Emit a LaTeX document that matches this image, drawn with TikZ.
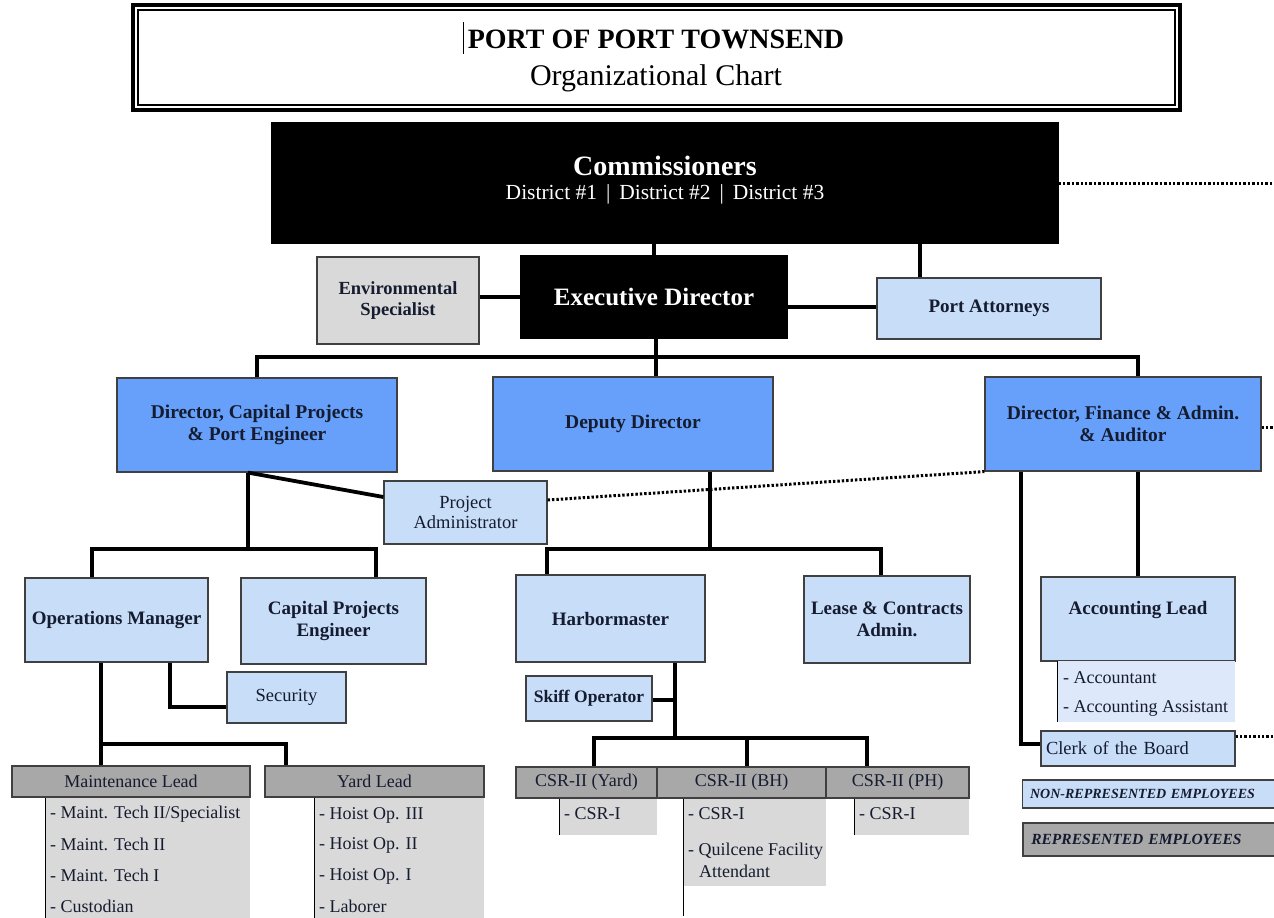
\documentclass[tikz,border=0pt]{standalone}
\usepackage{fontspec}
\setmainfont{Liberation Serif}
\usetikzlibrary{calc}
\definecolor{dblue}{RGB}{102,160,250}
\definecolor{lblue}{RGB}{200,221,248}
\definecolor{llblue}{RGB}{221,232,250}
\definecolor{hgray}{RGB}{168,168,168}
\definecolor{lgray}{RGB}{217,217,217}
\definecolor{bord}{RGB}{64,64,64}
\definecolor{ink}{RGB}{22,28,48}
\newcommand\fs[2]{\fontsize{#1}{#2}\selectfont}
\newcommand\rbox[6]{\node[#1, minimum width={#4pt-#2pt}, minimum height={#5pt-#3pt}] (#6) at ({(#2+#4)/2},{(#3+#5)/2})}
\tikzset{
  bx/.style={draw=bord, line width=1.2pt, inner sep=0pt, align=center, text=ink},
  blackbox/.style={bx, fill=black, draw=black, text=white},
  titlebox/.style={draw=black, line width=4pt, inner sep=0pt, fill=white},
  dirbox/.style={bx, fill=dblue, font=\fs{19.5}{22}\bfseries},
  nrbox/.style={bx, fill=lblue, font=\fs{19}{22}\bfseries},
  nrreg/.style={bx, fill=lblue, font=\fs{18.5}{20}},
  envbox/.style={bx, fill=lgray, font=\fs{18.5}{21}\bfseries},
  hdrbox/.style={bx, fill=hgray, line width=1.6pt, font=\fs{18}{21}},
  listbg/.style={inner sep=0pt, anchor=north west},
  item/.style={anchor=west, inner sep=0pt, font=\fs{18}{21}, text=ink},
  txt/.style={inner sep=0pt, anchor=base},
  conn/.style={line width=3.8pt, draw=black},
  dotl/.style={line width=3pt, draw=black, dash pattern=on 2.4pt off 2pt},
  thinl/.style={line width=1pt, draw=black},
  legend/.style={bx, anchor=west, font=\fs{14}{16}\bfseries\itshape}
}
\begin{document}
\begin{tikzpicture}[x=1pt,y=-1pt]
\useasboundingbox (0,0) rectangle (1274,918);
\fill[white] (0,0) rectangle (1274,918);

% ---- title
\rbox{titlebox}{133}{5}{1180}{110}{title}{};
\draw[line width=1.2pt] ($(title.north west)+(7,7)$) rectangle ($(title.south east)+(-7,-7)$);
\node[txt, font=\fs{28}{32}\bfseries] (t1) at (656,48) {PORT OF PORT TOWNSEND};
\node[txt, font=\fs{30}{34}] (t2) at (656,85) {Organizational Chart};
\coordinate (cur1) at (463,22);
\coordinate (cur2) at (463,54);
\draw[line width=0.9pt] (cur1) -- (cur2);

% ---- top
\rbox{blackbox}{272}{123}{1058}{243}{comm}{};
\node[txt, text=white, font=\fs{28}{32}\bfseries] (ct1) at (665,175) {Commissioners};
\node[txt, text=white, font=\fs{21.5}{24}] (ct2) at (665,199) {District \#1 \,|\, District \#2 \,|\, District \#3};
\rbox{blackbox}{521}{256}{787}{338}{exec}{\fs{25}{28}\bfseries Executive Director};
\rbox{envbox}{317}{257}{479}{344}{env}{Environmental\\Specialist};
\rbox{nrbox}{877}{278}{1101}{339}{pa}{Port Attorneys};

% ---- directors
\rbox{dirbox}{117}{378}{397}{472}{dcp}{Director, Capital Projects\\\& Port Engineer};
\rbox{dirbox}{493}{377}{773}{471}{dep}{Deputy Director};
\rbox{dirbox}{985}{377}{1261}{471}{dfa}{Director, Finance \& Admin.\\\& Auditor};
\rbox{nrreg}{384}{481}{547}{544}{padm}{Project\\Administrator};

% ---- managers
\rbox{nrbox}{25}{578}{208}{662}{ops}{Operations Manager};
\rbox{nrbox}{241}{578}{426}{664}{cpe}{Capital Projects\\Engineer};
\rbox{nrreg}{227}{672}{346}{723}{sec}{Security};
\rbox{nrbox}{516}{575}{705}{662}{harb}{Harbormaster};
\rbox{nrbox}{804}{576}{970}{663}{lease}{Lease \& Contracts\\Admin.};
\rbox{bx, fill=lblue, font=\fs{17.5}{20}\bfseries}{526}{676}{652}{721}{skiff}{Skiff Operator};
\rbox{nrbox}{1041}{577}{1235}{661}{acl}{\raisebox{9pt}[\height][\depth]{Accounting Lead}};
\rbox{bx, fill=lblue, font=\fs{18.5}{21}, text width=186pt, align=left}{1041}{731}{1235}{766}{clerk}{\hspace*{1pt}Clerk of the Board};

% ---- accounting list
\node[listbg, fill=llblue, minimum width=178pt, minimum height=61pt] (acll) at (1057,661) {};
\draw[thinl] (acll.north west) -- (acll.south west);
\node[item] (a1) at (1063,678) {- Accountant};
\node[item] (a2) at (1063,708) {- Accounting Assistant};

% ---- represented headers and lists
\node[listbg, fill=lgray, minimum width=205pt, minimum height=130pt] (mlist) at (45,797) {};
\draw[thinl] (mlist.north west) -- (mlist.south west);
\node[listbg, fill=lgray, minimum width=170pt, minimum height=130pt] (ylist) at (314,797) {};
\draw[thinl] (ylist.north west) -- (ylist.south west);
\rbox{hdrbox}{12}{766}{250}{797}{mlead}{Maintenance Lead};
\rbox{hdrbox}{265}{766}{484}{797}{ylead}{Yard Lead};
\node[item] (m1) at (50,814) {- Maint. Tech II/Specialist};
\node[item] (m2) at (50,844) {- Maint. Tech II};
\node[item] (m3) at (50,875) {- Maint. Tech I};
\node[item] (m4) at (50,906) {- Custodian};
\node[item] (y1) at (319,815) {- Hoist Op. III};
\node[item] (y2) at (319,845) {- Hoist Op. II};
\node[item] (y3) at (319,876) {- Hoist Op. I};
\node[item] (y4) at (319,906) {- Laborer};

\node[listbg, fill=lgray, minimum width=98pt, minimum height=37pt] (cyl) at (559,798) {};
\draw[thinl] (cyl.north west) -- (cyl.south west);
\node[listbg, fill=lgray, minimum width=143pt, minimum height=88pt] (cbl) at (683,798) {};
\coordinate (cblend) at (683,916);
\draw[thinl] (cbl.north west) -- (cblend);
\node[listbg, fill=lgray, minimum width=115pt, minimum height=37pt] (cpl) at (854,798) {};
\draw[thinl] (cpl.north west) -- (cpl.south west);
\rbox{hdrbox}{516}{767}{657}{798}{csry}{CSR-II (Yard)};
\rbox{hdrbox}{657}{767}{826}{798}{csrb}{CSR-II (BH)};
\rbox{hdrbox}{826}{767}{969}{798}{csrp}{CSR-II (PH)};
\node[item] (c1) at (564,814) {- CSR-I};
\node[item] (c2) at (688,814) {- CSR-I};
\node[item] (c3) at (688,851) {- Quilcene Facility};
\node[item] (c4) at (699,871) {Attendant};
\node[item] (c5) at (859,814) {- CSR-I};

% ---- legend
\node[legend, fill=lblue, minimum width=262pt, minimum height=28pt, text width=255pt, align=left] (lg1) at (1022,794) {\hspace*{4pt}NON-REPRESENTED EMPLOYEES};
\node[legend, fill=hgray, line width=1.6pt, minimum width=262pt, minimum height=33pt, text width=255pt, align=left, font=\fs{15.5}{18}\bfseries\itshape] (lg2) at (1022,839.5) {\hspace*{5pt}REPRESENTED EMPLOYEES};

% ---- connectors
\draw[conn] (exec.north) -- (exec.north |- comm.south);
\draw[conn] (pa.north -| 920,0) -- (920,0 |- comm.south);
\draw[conn] (env.east |- 0,297) -- (exec.west |- 0,297);
\draw[conn] (exec.east |- 0,307) -- (pa.west |- 0,307);
\coordinate (bus1) at (656,357);
\draw[conn] (exec.south -| bus1) -- (bus1);
\draw[conn] (dcp.north) |- (bus1) -| (dfa.north -| 1138,0);
\draw[conn] (dep.north -| bus1) -- (bus1);
\draw[conn] (dcp.south -| 248,0) -- (padm.west |- 0,497);
\coordinate (bus2) at (248,549);
\draw[conn] (dcp.south -| bus2) -- (bus2);
\draw[conn] (ops.north -| 92,0) |- (bus2) -| (cpe.north -| 376,0);
\draw[conn] (ops.south -| 170,0) |- (sec.west |- 0,707);
\coordinate (bus3) at (101,744);
\draw[conn] (ops.south -| bus3) -- (mlead.north -| bus3);
\draw[conn] (bus3) -| (ylead.north -| 286,0);
\coordinate (bus4) at (710,549);
\draw[conn] (dep.south -| bus4) -- (bus4);
\draw[conn] (harb.north -| 547,0) |- (bus4) -| (lease.north -| 881,0);
\coordinate (bus5) at (675,738);
\draw[conn] (harb.south -| bus5) -- (bus5);
\draw[conn] (skiff.east |- 0,700) -- (bus5 |- 0,700);
\draw[conn] (csry.north -| 594,0) |- (bus5) -| (csrp.north -| 867,0);
\draw[conn] (csrb.north -| 747,0) -- (bus5 -| 747,0);
\draw[conn] (acl.north -| 1138,0) -- (dfa.south -| 1138,0);
\draw[conn] (dfa.south -| 1021,0) |- (clerk.west |- 0,744);
\coordinate (e1) at (1276,183);
\coordinate (e2) at (1276,427);
\coordinate (e3) at (1276,736);
\draw[dotl] (comm.east) -- (e1);
\draw[dotl] (dfa.east |- e2) -- (e2);
\draw[dotl] (padm.east |- 0,500) -- (dfa.south west);
\draw[dotl] (clerk.east |- e3) -- (e3);
\end{tikzpicture}
\end{document}
